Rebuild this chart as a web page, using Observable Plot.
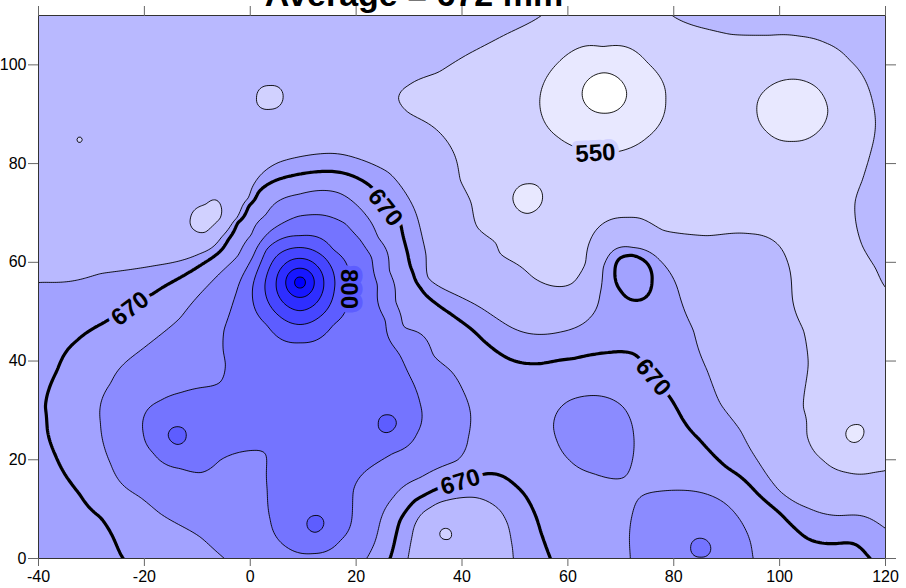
<!DOCTYPE html>
<html><head><meta charset="utf-8">
<script src="https://cdn.jsdelivr.net/npm/d3@7"></script>
<script src="https://cdn.jsdelivr.net/npm/@observablehq/plot@0.6"></script>
<style>
html,body{margin:0;padding:0;background:#fff;}
#wrap{position:relative;width:906px;height:588px;overflow:hidden;}
#title{position:absolute;left:0;width:828px;top:-23px;text-align:center;font:bold 34px "Liberation Sans",Arial,sans-serif;line-height:34px;color:#000;pointer-events:none;}
</style></head><body>
<div id="wrap"><div id="chart"></div><div id="title">Average = 672 mm</div></div>
<script>
// ---------- data (x, y in map units; levels in mm) ----------
const xTicks = [-40, -20, 0, 20, 40, 60, 80, 100, 120];
const yTicks = [0, 20, 40, 60, 80, 100];
const fillLevels = [450, 500, 550, 600, 650, 700, 750, 800, 850, 900, 950, 1000];
const lineLevels = [500, 550, 600, 650, 700, 750, 800, 850, 900, 950, 1000];
const meanLevel = [670];

// traced isolines: vertices of each line
const c600a = [[55.0,110.0],[48.7,106.4],[41.7,102.5],[35.5,98.5],[29.8,95.8],[28.0,93.2],[29.8,90.4],[34.2,87.7],[38.0,83.1],[39.7,76.6],[41.7,72.1],[42.9,67.1],[46.3,64.0],[47.2,61.8],[53.5,56.9],[58.0,55.1],[61.0,55.9],[63.3,59.8],[64.2,64.4],[66.7,67.9],[71.2,69.1],[73.7,68.9],[78.0,66.5],[86.3,65.4],[94.4,65.8],[99.5,63.8],[101.4,60.4],[102.4,52.9],[104.5,46.2],[105.4,39.5],[104.5,30.6],[105.2,24.9],[108.2,19.9],[112.8,17.4],[117.7,17.4],[120.0,17.8]];
const c600b = [[79.7,110.0],[85.0,107.6],[90.7,106.2],[98.2,106.0],[103.9,105.8],[108.6,104.5],[113.3,100.9],[116.2,96.8],[117.5,92.8],[118.1,88.1],[117.3,82.7],[115.6,76.6],[114.3,72.5],[114.5,67.5],[115.6,63.4],[118.1,58.8],[120.0,54.9]];
const c650main = [[-40,55.9],[-28.3,57.7],[-17.6,59.4],[-9.4,61.8],[-5.5,65.0],[-2.6,68.9],[-0.4,73.0],[0.9,76.2],[5.3,80.2],[13.4,82.0],[19.8,81.2],[26.1,78.2],[30.4,72.1],[32.3,66.0],[33.2,61.4],[33.6,56.9],[41.0,52.3],[47.2,48.2],[54.8,45.4],[59.9,46.2],[64.2,48.8],[66.1,53.7],[66.7,59.0],[68.6,62.4],[72.3,63.0],[77.4,60.4],[81.2,52.9],[83.7,46.2],[86.3,38.1],[88.8,31.4],[92.6,25.9],[95.8,19.9],[98.8,15.2],[105.2,10.3],[111.4,8.7],[120,6.1]];
const c650bottom = [[29.8,0],[30.6,4.7],[31.5,7.7],[34.0,10.3],[37.2,11.8],[42.1,12.4],[45.3,11.3],[47.2,9.7],[48.7,6.7],[49.3,3.6],[49.7,0]];
const c670main = [[-24.0,0],[-26.1,4.7],[-28.3,8.3],[-32.1,12.8],[-34.6,16.4],[-36.8,20.9],[-38.3,25.9],[-38.7,30.6],[-37.8,35.0],[-36.5,38.1],[-32.7,44.2],[-27.0,48.2],[-22.7,51.3],[-18.3,53.7],[-13.6,56.7],[-9.4,59.4],[-6.6,61.4],[-4.0,64.8],[-2.3,68.1],[-0.2,71.5],[1.5,74.1],[5.9,77.0],[13.4,78.4],[20.4,77.0],[25.1,72.5],[28.3,68.1],[29.8,61.4],[30.8,57.7],[32.1,54.9],[37.8,49.6],[44.0,44.2],[49.7,40.1],[54.8,39.5],[61.0,40.5],[67.4,41.7],[72.3,41.5],[76.1,36.7],[79.3,32.6],[81.8,28.0],[85.0,23.9],[90.1,18.4],[95.8,13.2],[101.4,7.7],[105.2,4.1],[110.1,3.0],[113.9,3.0],[115.8,1.6],[117.1,0]];
const c670bottom = [[26.4,0],[27.4,4.1],[28.3,7.7],[31.2,11.8],[34.6,13.8],[39.7,15.8],[44.8,17.2],[49.7,15.2],[51.9,12.8],[53.5,9.7],[54.8,5.7],[56.7,0]];
const c670ring = [[72.2,61.4],[74.8,60.0],[75.9,56.3],[75.2,53.5],[73.1,52.3],[70.0,54.2],[68.9,58.3],[69.8,60.8]];
const c700main = [[-5.1,0.2],[-9.4,4.3],[-17.0,9.1],[-20.8,12.4],[-26.4,19.2],[-28.3,27.4],[-26.4,35.5],[-20.8,42.1],[-13.2,48.8],[-9.4,53.7],[-5.9,57.6],[-2.3,61.4],[0.2,65.6],[2.8,69.5],[9.2,73.8],[16.6,74.1],[20.8,70.9],[24.2,65.0],[26.3,58.3],[27.5,52.0],[29.0,47.0],[34.6,41.2],[37.8,38.1],[40.2,34.0],[41.6,29.4],[41.2,24.5],[39.1,19.9],[32.1,16.4],[27.0,12.4],[24.6,7.7],[22.1,0.2]];
const c700bump = [[57.3,26.5],[57.9,23.9],[60.3,19.9],[64.8,17.2],[70.5,16.4],[72.4,21.3],[72.4,25.3],[70.5,30.6],[65.4,33.0],[60.3,32.0]];
const c700right = [[71.8,0],[72.2,9.1],[74.2,12.8],[79.3,13.8],[85.0,13.4],[88.8,11.8],[92.6,7.7],[94.4,3.6],[95.0,0]];
const c750star = [[-17.0,32.0],[-19.5,30.0],[-20.2,25.3],[-18.3,21.3],[-13.2,18.2],[-9.4,17.4],[-5.7,19.9],[0.6,21.9],[2.8,21.3],[3.2,13.8],[3.8,7.7],[7.0,2.2],[11.9,1.0],[17.0,3.6],[19.3,9.7],[19.5,13.8],[21.3,17.2],[27.0,21.3],[31.5,25.3],[32.1,31.4],[30.8,35.5],[28.3,41.1],[25.5,48.2],[24.0,55.5],[22.9,61.0],[20.8,64.5],[18.0,67.8],[13.5,69.6],[9.0,69.3],[4.0,66.5],[0.6,61.4],[-2.6,54.0],[-4.9,46.5],[-5.1,42.1],[-4.7,39.5],[-5.7,35.7],[-9.4,34.6],[-13.2,33.6]];
const peak800 = [[0.5,55.2],[18.3,55.2],[9.4,65.4],[9.4,43.7],[3.1,62.6],[15.7,62.6],[3.1,47.3],[15.7,47.3]];
const peak850 = [[2.8,55.7],[16.0,55.7],[9.4,63.0],[9.4,47.4],[4.7,60.9],[14.1,60.9],[4.7,49.9],[14.1,49.9]];
const peak900 = [[4.9,55.9],[13.9,55.9],[9.4,60.8],[9.4,50.2],[6.2,59.3],[12.6,59.3],[6.2,51.9],[12.6,51.9]];
const peak950 = [[6.7,55.9],[12.1,55.9],[9.4,58.8],[9.4,52.9],[7.5,58.0],[11.3,58.0],[7.5,53.8],[11.3,53.8]];
const peak1000 = [[8.4,55.9],[10.4,55.9],[9.4,57.0],[9.4,54.8]];
const ring500 = [[62.7,94.3],[71.1,94.3],[66.9,98.4],[66.9,90.2]];
const ring550a = [[54.7,92.9],[78.5,92.9],[66.6,103.7],[66.6,82.1],[58.2,100.5],[75.0,100.5],[58.2,85.3],[75.0,85.3]];
const ring550b = [[95.7,90.8],[109.1,90.8],[102.4,97.1],[102.4,84.5],[97.7,95.3],[107.1,95.3],[97.7,86.3],[107.1,86.3]];
const ring550c = [[49.6,72.9],[55.2,72.9],[52.4,75.9],[52.4,69.9]];
const ring550d = [[112.5,25.3],[115.9,25.3],[114.2,27.1],[114.2,23.5]];
const ring600a = [[-11.3,68.9],[-5.7,68.9],[-8.5,71.7],[-8.5,66.1]];
const ring600b = [[1.2,93.4],[6.2,93.4],[3.7,95.8],[3.7,91.0]];
const ring600c = [[35.8,5.0],[38.0,5.0],[36.9,6.1],[36.9,3.9]];
const ring800a = [[-15.5,24.9],[-12.1,24.9],[-13.8,26.7],[-13.8,23.1]];
const ring800b = [[24.2,27.3],[27.6,27.3],[25.9,29.1],[25.9,25.5]];
const ring800c = [[10.7,7.0],[13.9,7.0],[12.3,8.7],[12.3,5.3]];
const ring750 = [[83.2,2.2],[87.0,2.2],[85.1,4.1],[85.1,0.3]];

// spot values read inside the bands: [x, y, mm]
const spots = [
  [9.4,55.9,1030],[66.9,94.3,480],[102.4,90.8,525],[52.4,72.9,540],[114.2,25.3,542],
  [-8.5,68.9,590],[3.7,93.4,590],[36.9,5.0,592],[-32.1,85.0,599.6],
  [-13.8,24.9,808],[25.9,27.3,808],[12.3,7.0,808],[85.1,2.2,758],[72.5,57.0,685],[65.0,25.0,718],
  [-35,100,625],[-20,102,625],[-5,104,625],[10,104,622],[22,104,618],[-38,75,628],[-25,80,625],[-20,68,628],[-30,65,630],[-12,88,625],[-28,92,625],[15,92,625],[22,88,622],[-40,108,625],[-40,88,625],[-40,65,632],[0,110,622],[-20,110,625],[30,108,612],[36,68,625],[34,78,622],[28,84,620],[46,56,625],[58,50.5,625],[78,63.5,625],[90,55,625],[90,48,625],[95,40,625],[98,30,625],[101,20,627],[103,15,628],[115,12.5,625],[120,12,625],[95,60,622],[85,61,622],[33,4,630],[44,5,630],[40,9,632],[46,2,630],[120,105,612],[120,80,610],[120,65,612],[100,110,612],[110,110,612],[120,110,615],
  [65,108.5,565],[75,108,575],[87,100,570],[113,92,578],[110,80,580],[108,65,585],[112,45,580],[116,35,575],[108,50,585],[108,28,590],[88,75,575],[80,78,572],[100,77,570],[60,79,565],[70,78,570],[45,92,582],[47,98,585],[45,80,585],[46,72,580],[55,65,588],[120,35,575],[120,45,580],[119,21,592],[88,90,565],
  [-40,45,660],[-40,30,664],[-40,15,663],[-40,3,662],[-35,5,662],[120,2,662],[115,7,660],[48,28,685],[46,22,685],[40,43,685],[52,25,685],[50,33,685],[62,8,682],[57,14,685],[79,19,686],[65,37,684],[91,14,685],[100,2,684],[84,33,660],[101,11,660],[60,44,660],[72.5,47,662],[24.2,0.5,685],[64,2,684],[-33.5,28,685],[-30,40,685],[-16,52,683],[32,50,686],[-17,3,685],[-27,12,685],
  [-5,10,725],[-22,20,725],[-23,33,725],[-14,40,725],[-2,5,725],[21,4,725],[26,16,722],[19,69,725],[36,28,725],[30,44,725],[82,8,725],[90,5,720],
  [5,30,780],[15,20,776],[-7,26,775],[20,33,780],[0,40,774],[10,12,780],[7,18,770],[-2,30,778],[15,38,782],[0,48,780],[20,45,780],[10,30,785]
];

// contour labels
const labelText = ["670", "670", "670", "670", "550", "800"];
const labelX = [-22.7, 25.5, 76.1, 39.7, 65.2, 18.6];
const labelY = [50.6, 71.1, 36.7, 15.5, 82.1, 54.6];
const labelAngle = [-37, 52, 50, -17, -3, 90];

// ---------- build the sample table ----------
const traced = [
  [600, c600a], [600, c600b], [650, c650main], [650, c650bottom],
  [670, c670main], [670, c670bottom], [670, c670ring],
  [700, c700main], [700, c700bump], [700, c700right], [750, c750star], [750, ring750],
  [800, peak800], [850, peak850], [900, peak900], [950, peak950], [1000, peak1000],
  [500, ring500], [550, ring550a], [550, ring550b], [550, ring550c], [550, ring550d],
  [600, ring600a], [600, ring600b], [600, ring600c],
  [800, ring800a], [800, ring800b], [800, ring800c]
];
const samples = [];
for (const [v, pts] of traced) for (const [x, y] of pts) samples.push({x, y, v});
for (const [x, y, v] of spots) samples.push({x, y, v});

const labels = labelText.map((t, i) => ({t, x: labelX[i], y: labelY[i], a: labelAngle[i], band: Math.floor(+t / 50) * 50}));

// thin-plate spline interpolator handed to Plot.contour (memoised: shared by the 3 contour marks)
function thinPlate(lambda) {
  const memo = new Map();
  return function (index, width, height, X, Y, V) {
    const key = width + "x" + height + "x" + index.length;
    if (memo.has(key)) return memo.get(key);
    const n = index.length, s = 1 / Math.max(width, height);
    const px = new Float64Array(n), py = new Float64Array(n), pv = new Float64Array(n);
    let mean = 0;
    for (let k = 0; k < n; ++k) { const i = index[k]; px[k] = X[i] * s; py[k] = Y[i] * s; pv[k] = V[i]; mean += V[i]; }
    mean /= n;
    const N = n + 3, A = new Float64Array(N * N), b = new Float64Array(N);
    for (let i = 0; i < n; ++i) {
      for (let j = 0; j < n; ++j) {
        const dx = px[i] - px[j], dy = py[i] - py[j], r2 = dx * dx + dy * dy;
        A[i * N + j] = r2 > 1e-20 ? 0.5 * r2 * Math.log(r2) : 0;
      }
      A[i * N + i] += lambda;
      A[i * N + n] = A[n * N + i] = 1;
      A[i * N + n + 1] = A[(n + 1) * N + i] = px[i];
      A[i * N + n + 2] = A[(n + 2) * N + i] = py[i];
      b[i] = pv[i] - mean;
    }
    for (let c = 0; c < N; ++c) {
      let p = c, m = Math.abs(A[c * N + c]);
      for (let r = c + 1; r < N; ++r) { const a = Math.abs(A[r * N + c]); if (a > m) { m = a; p = r; } }
      if (p !== c) {
        for (let k = 0; k < N; ++k) { const t = A[c * N + k]; A[c * N + k] = A[p * N + k]; A[p * N + k] = t; }
        const t = b[c]; b[c] = b[p]; b[p] = t;
      }
      const d = A[c * N + c];
      if (d === 0) continue;
      for (let r = c + 1; r < N; ++r) {
        const f = A[r * N + c] / d;
        if (f === 0) continue;
        for (let k = c; k < N; ++k) A[r * N + k] -= f * A[c * N + k];
        b[r] -= f * b[c];
      }
    }
    const w = new Float64Array(N);
    for (let r = N - 1; r >= 0; --r) {
      let sum = b[r];
      for (let k = r + 1; k < N; ++k) sum -= A[r * N + k] * w[k];
      w[r] = A[r * N + r] ? sum / A[r * N + r] : 0;
    }
    const W = new Float64Array(width * height);
    for (let j = 0; j < height; ++j) {
      const y = (j + 0.5) * s;
      for (let i = 0; i < width; ++i) {
        const x = (i + 0.5) * s;
        let v = mean + w[n] + w[n + 1] * x + w[n + 2] * y;
        for (let k = 0; k < n; ++k) {
          const dx = x - px[k], dy = y - py[k], r2 = dx * dx + dy * dy;
          if (r2 > 1e-20) v += w[k] * 0.5 * r2 * Math.log(r2);
        }
        W[j * width + i] = v;
      }
    }
    memo.set(key, W);
    return W;
  };
}
const tps = thinPlate(5e-6);
const grid = {x: "x", y: "y", value: "v", interpolate: tps, pixelSize: 2, x1: -41, x2: 121, y1: 111, y2: -1, clip: true};

const chart = Plot.plot({
  width: 906, height: 588,
  marginLeft: 38, marginRight: 21, marginTop: 15, marginBottom: 30,
  style: {fontFamily: "'Liberation Sans', Arial, sans-serif", fontSize: "16px", background: "white"},
  x: {domain: [-40, 120]},
  y: {domain: [0, 110]},
  color: {type: "linear", domain: [450, 1000], range: ["#ffffff", "#0000ff"], interpolate: "rgb"},
  marks: [
    Plot.contour(samples, {...grid, thresholds: fillLevels, fill: "value", stroke: "none"}),
    Plot.contour(samples, {...grid, thresholds: lineLevels, fill: "none", stroke: "black", strokeWidth: 0.9}),
    Plot.contour(samples, {...grid, thresholds: meanLevel, fill: "none", stroke: "black", strokeWidth: 3.2}),
    Plot.text(labels, {x: "x", y: "y", text: "t", rotate: "a", fill: "black", stroke: "band", strokeWidth: 9, paintOrder: "stroke", fontSize: 24, fontWeight: "bold"}),
    Plot.frame({stroke: "#333"}),
    Plot.axisX(xTicks, {anchor: "bottom", tickSize: 8, tickPadding: 4, stroke: "#666", fill: "black", fontSize: 16, label: null, tickFormat: (d) => String(d)}),
    Plot.axisX(xTicks, {anchor: "top", tickSize: 10, stroke: "#666", fill: "none", label: null}),
    Plot.axisY(yTicks, {anchor: "left", tickSize: 10, tickPadding: 2, stroke: "#666", fill: "black", fontSize: 16, label: null, tickFormat: (d) => String(d)}),
    Plot.axisY(yTicks, {anchor: "right", tickSize: 10, stroke: "#666", fill: "none", label: null})
  ]
});
document.getElementById("chart").appendChild(chart);
</script></body></html>
